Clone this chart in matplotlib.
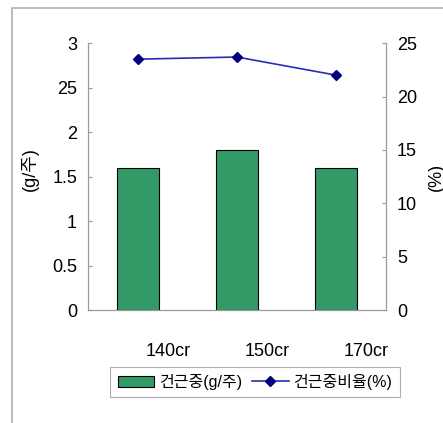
import matplotlib
matplotlib.use("Agg")
import matplotlib.pyplot as plt
import matplotlib.transforms as mtransforms
from matplotlib.patches import Rectangle

plt.rcParams['font.family'] = ['Liberation Sans', 'Noto Sans CJK KR', 'DejaVu Sans']

# 데이터
categories = ["140cr", "150cr", "170cr"]
weight = [1.6, 1.8, 1.6]          # 건근중 (g/주)
ratio = [23.5, 23.7, 22.0]        # 건근중비율 (%)

fig = plt.figure(figsize=(4.43, 4.23), dpi=100)
ax = fig.add_axes([0.199, 0.267, 0.672, 0.631])

# 바깥 테두리
fig.patches.append(Rectangle((12 / 443, -0.05), 1.0, 1 - 8 / 423 + 0.05,
                             transform=fig.transFigure, fill=False,
                             edgecolor="#b0b0b0", linewidth=1.2))

x = range(len(categories))
bars = ax.bar(x, weight, width=0.42, color="#339966", edgecolor="black",
              linewidth=0.8, label="건근중(g/주)")
ax.set_xlim(-0.5, 2.5)
ax.set_ylim(0, 3)
ax.set_yticks([0, 0.5, 1, 1.5, 2, 2.5, 3])
ax.set_yticklabels(["0", "0.5", "1", "1.5", "2", "25", "3"])
ax.set_xticks(list(x))
ax.set_xticklabels(categories, fontsize=13)
ax.tick_params(axis="x", length=0, pad=24)
ax.tick_params(axis="y", direction="in", length=3, labelsize=13, pad=8,
               color="#999999")
offset = mtransforms.ScaledTranslation(30 / 100, 0, fig.dpi_scale_trans)
for lab in ax.get_xticklabels():
    lab.set_transform(lab.get_transform() + offset)
ax.spines["top"].set_visible(False)
for s in ["left", "bottom", "right"]:
    ax.spines[s].set_color("#999999")
ax.set_ylabel("(g/주)", fontsize=13)
ax.yaxis.set_label_coords(-0.165, 0.53)

ax2 = ax.twinx()
line, = ax2.plot(x, ratio, color="#2b2bb8", linewidth=1.2, marker="D",
                 markersize=5, markerfacecolor="#000080",
                 markeredgecolor="#000080", label="건근중비율(%)")
ax2.set_ylim(0, 25)
ax2.set_yticks([0, 5, 10, 15, 20, 25])
ax2.tick_params(axis="y", direction="in", length=3, labelsize=13, pad=8,
                color="#999999")
ax2.spines["top"].set_visible(False)
for s in ["left", "bottom", "right"]:
    ax2.spines[s].set_color("#999999")
ax2.set_ylabel("(%)", fontsize=13, rotation=90)
ax2.yaxis.set_label_coords(1.14, 0.5)

leg = fig.legend([bars, line], ["건근중(g/주)", "건근중비율(%)"],
                 loc="center", bbox_to_anchor=(255 / 443, 1 - 382 / 423),
                 ncol=2, fontsize=11.5, frameon=True, fancybox=False,
                 handlelength=2.3, handletextpad=0.3, columnspacing=0.6,
                 borderpad=0.45)
leg.get_frame().set_edgecolor("#999999")
leg.get_frame().set_linewidth(0.8)

fig.savefig("out.png", dpi=100)
